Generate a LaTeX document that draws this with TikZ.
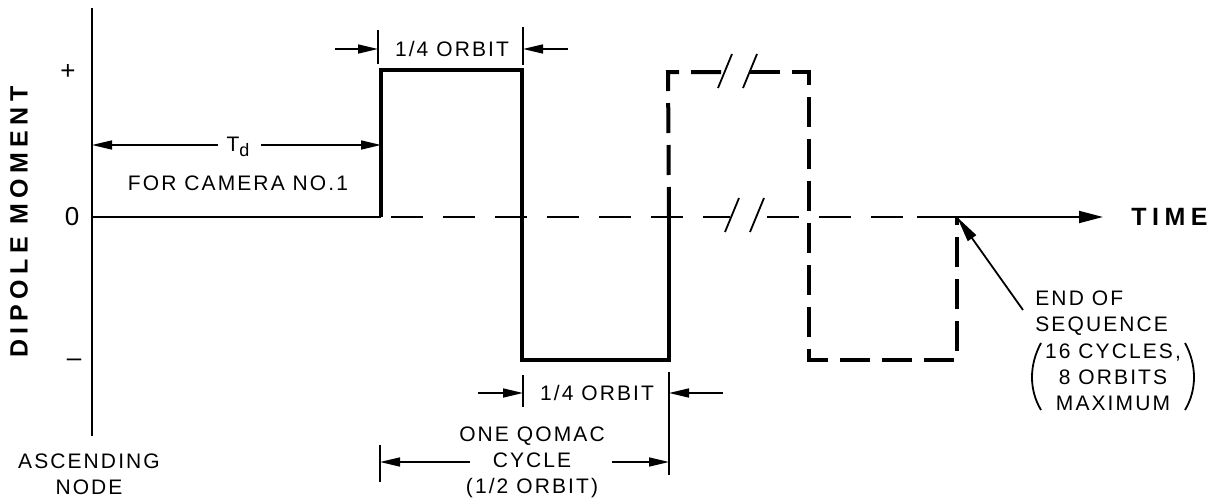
\documentclass[tikz,border=0pt]{standalone}
\usepackage{fontspec}
\setmainfont{Liberation Sans}[LetterSpace=10]
\newfontfamily\headfont{Liberation Sans}[LetterSpace=22]
\usetikzlibrary{arrows.meta}

\begin{document}
\begin{tikzpicture}[x=0.5pt, y=-0.5pt,
  thinline/.style={line width=0.9pt},
  dimline/.style={line width=0.8pt, -{Triangle[length=10pt,width=4.5pt]}},
  pulse/.style={line width=2pt, line join=miter},
  pulsedash/.style={line width=2pt, dash pattern=on 15pt off 6pt},
  zerodash/.style={line width=0.9pt, dash pattern=on 16pt off 10pt, dash phase=21pt},
  label/.style={font=\fontsize{10.5}{13}\selectfont, inner sep=1pt},
  level/.style={font=\fontsize{13}{15}\selectfont, inner sep=1pt},
  heading/.style={font=\headfont\bfseries\fontsize{12.5}{15}\selectfont, inner sep=0pt}
]
\useasboundingbox (0,0) rectangle (1222,498);

\coordinate (top) at (92,8);
\coordinate (bot) at (92,436);
\coordinate (o) at (92,217);
\coordinate (rise) at (381,217);
\coordinate (p1) at (381,70);
\coordinate (p2) at (522,70);
\coordinate (p3) at (522,360);
\coordinate (p4) at (669,360);
\coordinate (p5) at (669,217);
\coordinate (brk1) at (730,217);
\coordinate (brk2) at (757,217);
\coordinate (axisrun) at (917,217);
\coordinate (tip) at (1103,217);
\coordinate (endseq) at (957,217);

\node[heading, rotate=90] (ylabel) at (19,222) {DIPOLE MOMENT};
\node[heading, anchor=west] (xlabel) at (1131,217) {TIME};
\node[level] (plus) at (68,72) {+};
\node[level] (zero) at (72,217) {0};
\node[level] (minus) at (74,363) {--};
\node[label, align=center] (asc) at (89,474) {ASCENDING\\NODE};

\draw[thinline] (top) -- (bot);
\draw[thinline] (o) -- (rise);
\draw[zerodash] (rise) -- (brk1);
\draw[zerodash] (brk2) -- (axisrun);
\draw[thinline, -{Triangle[length=12pt,width=6pt]}] (axisrun) -- (tip);

\draw[pulse] (rise) -- (p1) -- (p2) -- (p3) -- (p4) -- (p5);
\draw[pulsedash] (brk1 -| p5) -- (668,72) -- (725,72);
\draw[pulsedash] (750,72) -- (809,72) -- (809,360) -- (957,360) -- (endseq);
\foreach \bx/\by in {725/71, 750/71, 732/215, 757/215}
  \draw[thinline] (\bx-7,\by+17) -- (\bx+7,\by-17);

\node[label] (td) at (238,147) {T\raisebox{-0.45ex}{\fontsize{9}{10}\selectfont d}};
\node[label] (cam) at (238,183) {FOR CAMERA NO.1};
\coordinate (tdl) at (218,145);
\coordinate (tdr) at (261,145);
\draw[dimline] (tdl) -- (92,145);
\draw[dimline] (tdr) -- (381,145);

\node[label] (qtop) at (452,49) {1/4 ORBIT};
\draw[thinline] (378,30) -- (378,64);
\draw[thinline] (523,27) -- (523,65);
\draw[dimline] (335,49) -- (378,49);
\draw[dimline] (568,49) -- (523,49);

\node[label] (qbot) at (597,393) {1/4 ORBIT};
\draw[thinline] (523,375) -- (523,407);
\draw[thinline] (669,372) -- (669,475);
\draw[dimline] (478,393) -- (523,393);
\draw[dimline] (723,393) -- (669,393);

\node[label, align=center] (cyc) at (532,462) {ONE QOMAC\\CYCLE\\(1/2 ORBIT)};
\draw[thinline] (380,445) -- (380,482);
\draw[dimline] (470,462) -- (380,462);
\draw[dimline] (612,462) -- (669,462);

\node[label, align=left, anchor=west] (endtxt) at (1033,313) {END OF\\SEQUENCE};
\node[label, align=center] (maxtxt) at (1113,377) {16 CYCLES,\\8 ORBITS\\MAXIMUM};
\coordinate (endtail) at (1023,310);
\draw[thinline, -{Triangle[length=13pt,width=5pt]}] (endtail) -- (endseq);
\draw[thinline] (1041,343) .. controls (1029,365) and (1029,390) .. (1041,410);
\draw[thinline] (1185,343) .. controls (1197,365) and (1197,390) .. (1185,410);
\end{tikzpicture}
\end{document}
